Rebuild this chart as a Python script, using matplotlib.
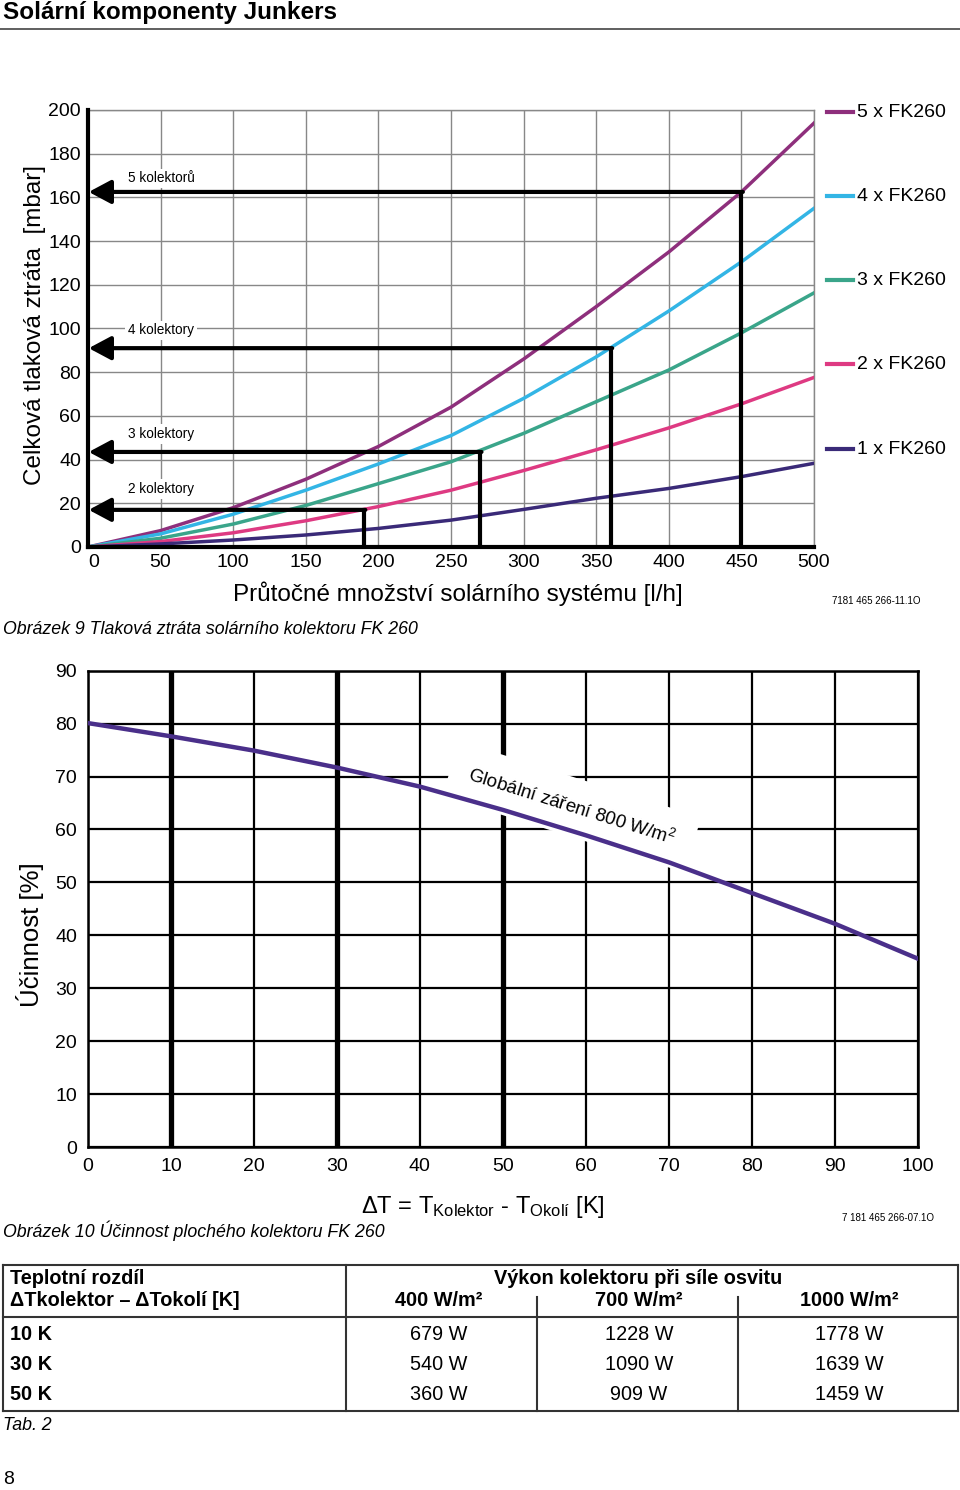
import numpy as np
import matplotlib
matplotlib.use("Agg")
import matplotlib.pyplot as plt
from matplotlib.lines import Line2D

plt.rcParams['font.family'] = ['Liberation Sans', 'DejaVu Sans']
plt.rcParams['mathtext.fontset'] = 'custom'
plt.rcParams['mathtext.rm'] = 'Liberation Sans'
plt.rcParams['mathtext.it'] = 'Liberation Sans:italic'

# --- data: tlakova ztrata ---
prutok = [0, 50, 100, 150, 200, 250, 300, 350, 400, 450, 500]
ztrata_5 = [0, 7.5, 18, 31, 46, 64, 86, 110, 135, 162.5, 194]
ztrata_4 = [0, 6, 15, 26, 38, 51, 68, 87, 108, 130.5, 155]
ztrata_3 = [0, 4, 10.5, 19, 29, 39, 52, 66.5, 81, 98, 116.3]
ztrata_2 = [0, 2.5, 6.5, 12, 18.5, 26, 35, 44.5, 54.5, 65.5, 77.6]
ztrata_1 = [0, 1.4, 3.2, 5.5, 8.5, 12.3, 17.2, 22.3, 26.8, 32.2, 38.3]
serie_nazvy = ['5 x FK260', '4 x FK260', '3 x FK260', '2 x FK260', '1 x FK260']
barvy = ['#8e2f7c', '#33b5e5', '#3aa58a', '#de3a82', '#3a2a78']

kolektory_txt = ['2 kolektory', '3 kolektory', '4 kolektory', '5 kolektorů']
kolektory_x = [190, 270, 360, 450]
kolektory_y = [17, 43.5, 91, 162.5]

# --- data: ucinnost ---
delta_t = [0, 10, 20, 30, 40, 50, 60, 70, 80, 90, 100]
ucinnost = [80.1, 77.6, 74.9, 71.7, 68.1, 63.7, 58.9, 53.8, 48.0, 42.2, 35.6]

# --- data: tabulka ---
radky = ['10 K', '30 K', '50 K']
osvit = ['400 W/m²', '700 W/m²', '1000 W/m²']
vykon_400 = ['679 W', '540 W', '360 W']
vykon_700 = ['1228 W', '1090 W', '909 W']
vykon_1000 = ['1778 W', '1639 W', '1459 W']

W, H = 960, 1490
fig = plt.figure(figsize=(W / 100, H / 100), dpi=100)


def fx(px):
    return px / W


def fy(py):
    return 1 - py / H


def hline(x0, x1, y, lw=1.5, c='#333333'):
    fig.add_artist(Line2D([fx(x0), fx(x1)], [fy(y), fy(y)], color=c, lw=lw))


def vline(x, y0, y1, lw=1.5, c='#333333'):
    fig.add_artist(Line2D([fx(x), fx(x)], [fy(y0), fy(y1)], color=c, lw=lw))


# nadpis
fig.text(fx(3), fy(12), 'Solární komponenty Junkers', fontsize=17.5, fontweight='bold', va='center')
hline(0, 960, 29, lw=1.2, c='#444444')

# ---------------- graf 1 ----------------
ax = fig.add_axes([fx(88), fy(547), fx(814) - fx(88), fy(110) - fy(547)])
ax.set_xlim(0, 500)
ax.set_ylim(0, 200)
ax.set_xticks(range(0, 501, 50))
ax.set_yticks(range(0, 201, 20))
ax.grid(True, color='#888888', lw=1)
ax.set_axisbelow(True)
ax.tick_params(length=0, labelsize=14, pad=5)
ax.get_xticklabels()[0].set_ha('left')
for s in ['top', 'right']:
    ax.spines[s].set_color('#888888')
    ax.spines[s].set_linewidth(1)
for s in ['left', 'bottom']:
    ax.spines[s].set_linewidth(3)
    ax.spines[s].set_zorder(5)

serie = [ztrata_5, ztrata_4, ztrata_3, ztrata_2, ztrata_1]
for y, c in zip(serie, barvy):
    ax.plot(prutok, y, color=c, lw=2.5, zorder=3)

for x, y in zip(kolektory_x, kolektory_y):
    ax.plot([x, x], [0, y], color='black', lw=3, zorder=4, solid_capstyle='butt')
    ax.annotate('', xy=(0.5, y), xytext=(x + 1, y),
                arrowprops=dict(arrowstyle='-|>,head_length=0.75,head_width=0.4',
                                color='black', lw=3, shrinkA=0, shrinkB=0,
                                mutation_scale=18), zorder=4)

txt_y = [26.5, 51.7, 99.2, 168.7]
for t, ty in zip(kolektory_txt, txt_y):
    ax.text(27.5, ty, t, fontsize=9.8, ha='left', va='center',
            bbox=dict(facecolor='white', edgecolor='none', pad=2), zorder=2)

# legenda
leg_y = [198.9, 160.5, 122.1, 83.7, 44.8]
for n, c, ly in zip(serie_nazvy, barvy, leg_y):
    ax.plot([509, 527], [ly, ly], color=c, lw=3, clip_on=False)
    ax.text(529.5, ly, n, fontsize=14, va='center', ha='left')

fig.text(fx(35), fy(325), 'Celková tlaková ztráta  [mbar]', rotation=90,
         fontsize=17.5, ha='center', va='center')
fig.text(fx(458), fy(594), 'Průtočné množství solárního systému [l/h]',
         fontsize=17.5, ha='center', va='center')
fig.text(fx(832), fy(601), '7181 465 266-11.1O', fontsize=7, ha='left', va='center')
fig.text(fx(3), fy(629), 'Obrázek 9 Tlaková ztráta solárního kolektoru FK 260',
         fontsize=12.8, style='italic', va='center')

# ---------------- graf 2 ----------------
ax2 = fig.add_axes([fx(88), fy(1147), fx(917.7) - fx(88), fy(670.7) - fy(1147)])
ax2.set_xlim(0, 100)
ax2.set_ylim(0, 90)
ax2.set_xticks(range(0, 101, 10))
ax2.set_yticks(range(0, 91, 10))
ax2.grid(True, color='black', lw=1.6)
ax2.set_axisbelow(True)
for i, gl in enumerate(ax2.get_xgridlines()):
    if i in (1, 3, 5):
        gl.set_linewidth(3.8)
ax2.tick_params(length=0, labelsize=14, pad=8)
for s in ax2.spines.values():
    s.set_linewidth(1.8)

ax2.plot(delta_t, ucinnost, color='#4a2f8a', lw=3.2, zorder=4)
ax2.text(58.3, 64.3, 'Globální záření 800 W/m$^2$', rotation=-17.5, rotation_mode='anchor',
         ha='center', va='center', fontsize=13.5,
         bbox=dict(facecolor='white', edgecolor='none', boxstyle='square,pad=1.0'), zorder=3)

fig.text(fx(30), fy(935), 'Účinnost [%]', rotation=90, fontsize=18.5, ha='center', va='center')
fig.text(fx(483), fy(1207), r'$\Delta$T = T$_{\mathrm{Kolektor}}$ - T$_{\mathrm{Okolí}}$ [K]',
         fontsize=17, ha='center', va='center')
fig.text(fx(842), fy(1218), '7 181 465 266-07.1O', fontsize=7, ha='left', va='center')
fig.text(fx(3), fy(1231), 'Obrázek 10 Účinnost plochého kolektoru FK 260',
         fontsize=12.8, style='italic', va='center')

# ---------------- tabulka ----------------
hline(3, 958, 1265)
hline(3, 958, 1317)
hline(3, 958, 1411)
vline(3, 1265, 1411)
vline(346, 1265, 1411)
vline(537, 1297, 1411)
vline(738, 1297, 1411)
vline(958, 1265, 1411)

fig.text(fx(10), fy(1279), 'Teplotní rozdíl', fontsize=14.3, fontweight='bold', va='center')
fig.text(fx(10), fy(1301), 'ΔTkolektor – ΔTokolí [K]', fontsize=14.3, fontweight='bold', va='center')
fig.text(fx(638), fy(1279), 'Výkon kolektoru při síle osvitu', fontsize=14.3,
         fontweight='bold', ha='center', va='center')
sloupce_x = [439, 639, 849]
for sx, o in zip(sloupce_x, osvit):
    fig.text(fx(sx), fy(1301), o, fontsize=14.3, fontweight='bold', ha='center', va='center')

radky_y = [1334, 1364, 1395]
for ry, r, a, b, c in zip(radky_y, radky, vykon_400, vykon_700, vykon_1000):
    fig.text(fx(10), fy(ry), r, fontsize=14.3, fontweight='bold', va='center')
    for sx, v in zip(sloupce_x, [a, b, c]):
        fig.text(fx(sx), fy(ry), v, fontsize=14.3, ha='center', va='center')

fig.text(fx(3), fy(1425), 'Tab. 2', fontsize=12.8, style='italic', va='center')
fig.text(fx(3), fy(1480), '8', fontsize=14, va='center')

fig.savefig('out.png', dpi=100)
